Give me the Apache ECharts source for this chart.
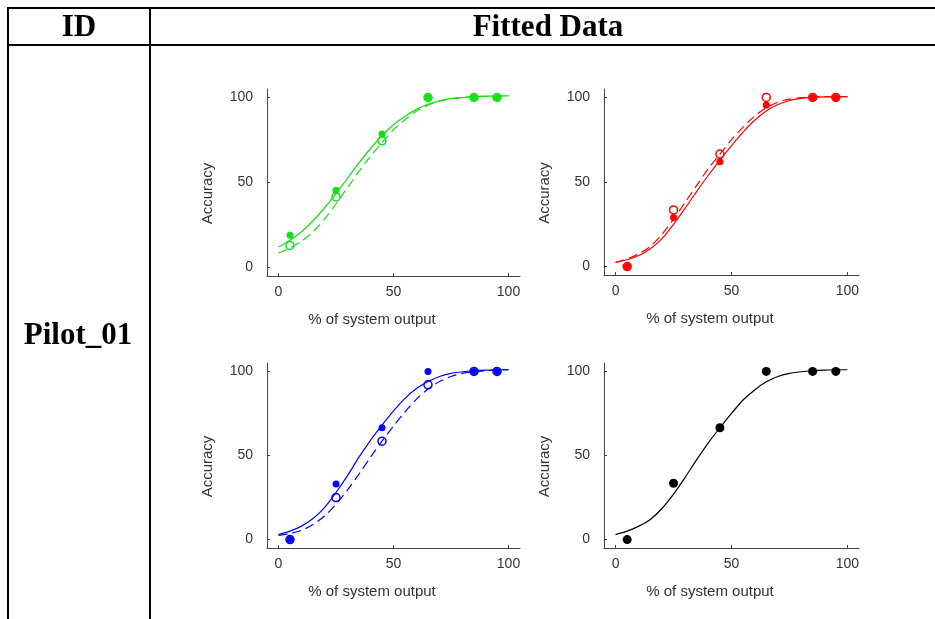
<!DOCTYPE html>
<html>
<head>
<meta charset="utf-8">
<script src="https://cdn.jsdelivr.net/npm/echarts@6/dist/echarts.min.js"></script>
<style>
  html, body { margin: 0; padding: 0; background: #fff; }
  #main { width: 935px; height: 619px; }
</style>
</head>
<body>
<div id="main"></div>
<script>
// measured points (x = % of system output)
const xPts = [5, 25, 45, 65, 85, 95]
const greenFilled = [19, 45.5, 78.5, 100, 100, 100]
const greenOpen = [13, 41.5, 74.5, 100, 100, 100]
const redFilled = [0, 29, 62, 95.5, 100, 100]
const redOpen = [0, 33.5, 66.5, 100, 100, 100]
const blueFilled = [0, 33, 66.5, 100, 100, 100]
const blueOpen = [0, 25, 58.5, 92, 100, 100]
const blackFilled = [0, 33.5, 66.5, 100, 100, 100]

// fitted curves, every 5 units
const xFit = [0, 5, 10, 15, 20, 25, 30, 35, 40, 45, 50, 55, 60, 65, 70, 75, 80, 85, 90, 95, 100]
const greenSolid = [12, 16, 21, 27.5, 35, 43.5, 52.5, 61.5, 70, 77.5, 84, 89, 93, 96, 98, 99.3, 100, 100.5, 100.7, 101, 101]
const greenDash = [8.5, 11.5, 15.5, 21, 28.5, 37.5, 47, 56.5, 65.5, 73.5, 81, 87, 92, 95.5, 97.8, 99.2, 100, 100.5, 100.7, 101, 101]
const redSolid = [2.5, 4, 6.5, 10.5, 16.5, 25, 34.5, 44.5, 54, 63, 71.5, 79.5, 86.5, 92, 95.8, 98.2, 99.5, 100.1, 100.4, 100.5, 100.5]
const redDash = [2.5, 4.5, 7.5, 12, 19, 28, 38, 48, 58, 66.5, 75, 82.5, 89, 94, 97.2, 99, 99.9, 100.3, 100.5, 100.5, 100.5]
const blueSolid = [3, 5, 8, 12.5, 19, 28, 38, 49, 59, 68, 76.5, 84, 89.8, 94, 97, 98.8, 99.8, 100.4, 100.8, 101, 101]
const blueDash = [2.5, 3.5, 5.5, 9, 14, 21, 29.5, 39, 49, 58.5, 67.5, 76, 83.5, 89.5, 94, 97, 98.8, 99.8, 100.4, 100.8, 101]
const blackSolid = [3, 5, 8, 12, 18.5, 27, 37, 47.5, 57.5, 66.5, 75, 83, 89, 93.8, 97, 98.8, 99.8, 100.4, 100.8, 101, 101]

const tickVals = [0, 50, 100]

const zip = (xs, ys) => xs.map((x, i) => [x, ys[i]])

// panel layout
const panels = [
  { left: 267, top: 89, width: 253, height: 187, color: '#12e012', solid: greenSolid, dash: greenDash, filled: greenFilled, open: greenOpen },
  { left: 604, top: 89, width: 255, height: 186, color: '#ff0000', solid: redSolid, dash: redDash, filled: redFilled, open: redOpen },
  { left: 267, top: 363, width: 253, height: 185, color: '#0000ff', solid: blueSolid, dash: blueDash, filled: blueFilled, open: blueOpen },
  { left: 604, top: 363, width: 255, height: 185, color: '#000000', solid: blackSolid, dash: null, filled: blackFilled, open: null }
]

const labelFont = { fontFamily: 'Liberation Sans', fontSize: 14, color: '#333' }

const grid = []
const xAxis = []
const yAxis = []
const series = []
const graphic = []

panels.forEach((p, i) => {
  grid.push({ left: p.left, top: p.top, width: p.width, height: p.height })
  xAxis.push({
    type: 'value', gridIndex: i, min: -5, max: 105,
    axisLine: { show: true, onZero: false, lineStyle: { color: '#444', width: 1 } },
    axisTick: { show: true, inside: true, length: 3, customValues: tickVals, lineStyle: { color: '#444' } },
    axisLabel: { ...labelFont, margin: 9, customValues: tickVals },
    splitLine: { show: false }
  })
  yAxis.push({
    type: 'value', gridIndex: i, min: -5, max: 105,
    axisLine: { show: true, onZero: false, lineStyle: { color: '#444', width: 1 } },
    axisTick: { show: true, inside: true, length: 3, customValues: tickVals, lineStyle: { color: '#444' } },
    axisLabel: { ...labelFont, margin: 14, customValues: tickVals },
    splitLine: { show: false }
  })
  series.push({
    type: 'line', xAxisIndex: i, yAxisIndex: i, data: zip(xFit, p.solid),
    smooth: 0.3, showSymbol: false, silent: true,
    lineStyle: { color: p.color, width: 1.2 }
  })
  if (p.dash) {
    series.push({
      type: 'line', xAxisIndex: i, yAxisIndex: i, data: zip(xFit, p.dash),
      smooth: 0.3, showSymbol: false, silent: true,
      lineStyle: { color: p.color, width: 1.2, type: [9, 5] }
    })
  }
  if (p.open) {
    series.push({
      type: 'scatter', xAxisIndex: i, yAxisIndex: i, data: zip(xPts, p.open),
      symbol: 'circle', symbolSize: 8,
      itemStyle: { color: '#fff', borderColor: p.color, borderWidth: 1.5, opacity: 1 }
    })
  }
  series.push({
    type: 'scatter', xAxisIndex: i, yAxisIndex: i, data: zip(xPts, p.filled),
    symbol: 'circle', symbolSize: p.open ? 7 : 9,
    itemStyle: { color: p.color, opacity: 1 }
  })

  // axis names
  const isLeft = p.left < 400
  graphic.push({
    type: 'text', x: isLeft ? 207.5 : 545, y: p.top + p.height / 2 + 11,
    rotation: Math.PI / 2,
    style: { text: 'Accuracy', font: '15px "Liberation Sans"', fill: '#333', align: 'center', verticalAlign: 'middle' }
  })
  graphic.push({
    type: 'text', x: isLeft ? 372 : 710, y: p.top + p.height + 44,
    style: { text: '% of system output', font: '15px "Liberation Sans"', fill: '#333', align: 'center', verticalAlign: 'middle' }
  })
})

// table frame
const tableLine = (x1, y1, x2, y2) => ({
  type: 'line', shape: { x1, y1, x2, y2 }, style: { stroke: '#000', lineWidth: 2 }
})
graphic.push(tableLine(7, 8, 935, 8))
graphic.push(tableLine(7, 45, 935, 45))
graphic.push(tableLine(8, 7, 8, 619))
graphic.push(tableLine(150, 7, 150, 619))

const headFont = 'bold 31px "Liberation Serif"'
graphic.push({ type: 'text', x: 79, y: 28, style: { text: 'ID', font: headFont, fill: '#000', align: 'center', verticalAlign: 'middle' } })
graphic.push({ type: 'text', x: 548, y: 28, style: { text: 'Fitted Data', font: headFont, fill: '#000', align: 'center', verticalAlign: 'middle' } })
graphic.push({ type: 'text', x: 78, y: 336, style: { text: 'Pilot_01', font: headFont, fill: '#000', align: 'center', verticalAlign: 'middle' } })

const chart = echarts.init(document.getElementById('main'))
chart.setOption({
  animation: false,
  backgroundColor: '#fff',
  grid: grid,
  xAxis: xAxis,
  yAxis: yAxis,
  series: series,
  graphic: graphic
})
</script>
</body>
</html>
